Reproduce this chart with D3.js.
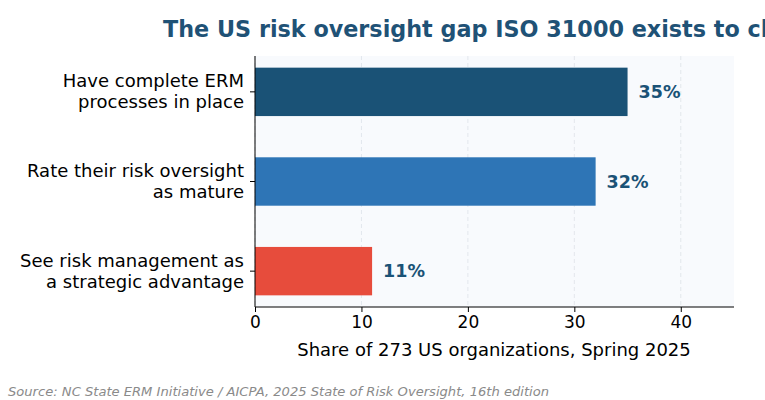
<!DOCTYPE html>
<html><head><meta charset="utf-8">
<script src="https://cdn.jsdelivr.net/npm/d3@7"></script>
<style>body{margin:0;background:#fff}svg{font-family:"DejaVu Sans",sans-serif}</style>
</head><body>
<svg id="c" width="765" height="400"></svg>
<script>
const categories = ["Have complete ERM\nprocesses in place","Rate their risk oversight\nas mature","See risk management as\na strategic advantage"];
const values = [35, 32, 11];
const colors = ["#1a5276","#2e75b6","#e74c3c"];
const xTicks = [0,10,20,30,40];

const svg = d3.select("#c");
const L=255,R=734,T=56,B=307;
const x = d3.scaleLinear().domain([0,45]).range([L,R]);
const y = d3.scaleLinear().domain([-0.4,2.4]).range([T,B]);
const bh = (y(1)-y(0))*0.54;

svg.append("rect").attr("x",L).attr("y",T).attr("width",R-L).attr("height",B-T).attr("fill","#f8fafd");
svg.selectAll(".g").data(xTicks).enter().append("line")
 .attr("x1",d=>x(d)).attr("x2",d=>x(d)).attr("y1",T).attr("y2",B)
 .attr("stroke","#dde2e8").attr("stroke-dasharray","4,3").attr("stroke-width",0.8);

svg.selectAll(".bar").data(values).enter().append("rect")
 .attr("x",x(0)).attr("y",(d,i)=>y(i)-bh/2).attr("width",d=>x(d)-x(0)).attr("height",bh)
 .attr("fill",(d,i)=>colors[i]);
svg.selectAll(".vl").data(values).enter().append("text")
 .attr("x",d=>x(d)+11).attr("y",(d,i)=>y(i)+6).attr("font-size",17.5).attr("font-weight","bold")
 .attr("fill","#1a5276").text(d=>d+"%");

const xa = svg.append("g").attr("transform",`translate(0,${B})`).call(d3.axisBottom(x).tickValues(xTicks).tickSize(5).tickPadding(4));
xa.select(".domain").remove();
xa.selectAll("text").attr("font-size",17).attr("fill","#000").attr("font-family","DejaVu Sans");
svg.append("line").attr("x1",L).attr("x2",R).attr("y1",B).attr("y2",B).attr("stroke","#000");
svg.append("line").attr("x1",L).attr("x2",L).attr("y1",T).attr("y2",B).attr("stroke","#000");

categories.forEach((c,i)=>{
  svg.append("line").attr("x1",L-5).attr("x2",L).attr("y1",y(i)).attr("y2",y(i)).attr("stroke","#000");
  const lines=c.split("\n");
  const t=svg.append("text").attr("text-anchor","end").attr("font-size",18).attr("fill","#000");
  lines.forEach((s,j)=>t.append("tspan").attr("x",L-11).attr("y",y(i)+(j-0.5)*21+6).text(s));
});

svg.append("text").attr("x",494).attr("y",356).attr("text-anchor","middle").attr("font-size",18).text("Share of 273 US organizations, Spring 2025");
svg.append("text").attr("x",163).attr("y",37).attr("font-size",22.3).attr("font-weight","bold").attr("fill","#1f5276").text("The US risk oversight gap ISO 31000 exists to close");
svg.append("text").attr("x",8).attr("y",396).attr("font-size",13.1).attr("font-style","italic").attr("fill","#8a8a8a").text("Source: NC State ERM Initiative / AICPA, 2025 State of Risk Oversight, 16th edition");
</script></body></html>
